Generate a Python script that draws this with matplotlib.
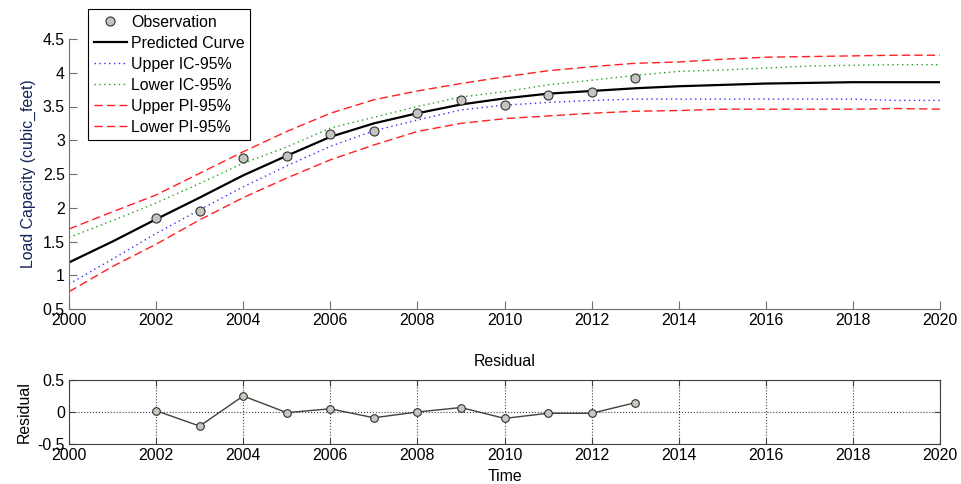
import numpy as np
import matplotlib
matplotlib.use('Agg')
import matplotlib.pyplot as plt

plt.rcParams['font.family'] = ['Liberation Sans', 'DejaVu Sans']
plt.rcParams['font.size'] = 11.4

# Model curve and confidence / prediction bands, yearly
years = np.arange(2000, 2021)
predicted = [1.19, 1.50, 1.83, 2.15, 2.48, 2.77, 3.05, 3.25, 3.40, 3.53, 3.62,
             3.69, 3.73, 3.77, 3.80, 3.82, 3.84, 3.85, 3.86, 3.86, 3.86]
upper_ic = [0.87, 1.24, 1.62, 1.97, 2.31, 2.62, 2.91, 3.14, 3.30, 3.45, 3.52,
            3.56, 3.59, 3.61, 3.61, 3.61, 3.61, 3.61, 3.61, 3.59, 3.59]
lower_ic = [1.56, 1.81, 2.07, 2.36, 2.66, 2.90, 3.18, 3.34, 3.50, 3.64, 3.72,
            3.82, 3.89, 3.96, 4.02, 4.04, 4.07, 4.10, 4.11, 4.12, 4.12]
upper_pi = [1.685, 1.94, 2.19, 2.51, 2.83, 3.13, 3.40, 3.60, 3.73, 3.84, 3.94,
            4.03, 4.09, 4.14, 4.16, 4.20, 4.23, 4.24, 4.25, 4.26, 4.26]
lower_pi = [0.756, 1.13, 1.46, 1.82, 2.15, 2.44, 2.71, 2.93, 3.13, 3.25, 3.32,
            3.36, 3.40, 3.43, 3.44, 3.46, 3.46, 3.46, 3.46, 3.47, 3.46]

# Observed data and residuals
obs_years = np.arange(2002, 2014)
observed = [1.85, 1.95, 2.73, 2.77, 3.09, 3.14, 3.40, 3.60, 3.52, 3.67, 3.71, 3.92]
residual = [0.02, -0.22, 0.25, -0.01, 0.05, -0.09, 0.00, 0.07, -0.10, -0.02, -0.02, 0.145]

x_ticks = np.arange(2000, 2021, 2)
y_ticks = [0.5, 1, 1.5, 2, 2.5, 3, 3.5, 4, 4.5]

W, H = 962, 484
fig = plt.figure(figsize=(W / 100, H / 100), dpi=100)

# Upper panel: fitted curve with bands
ax = fig.add_axes([69 / W, 1 - 309 / H, 871 / W, 270 / H])
ax.plot(obs_years, observed, 'o', ms=6.5, mfc='#c4c4c0', mec='#303030', mew=0.8,
        label='Observation', zorder=5)
ax.plot(years, predicted, '-', color='k', lw=1.6, label='Predicted Curve')
ax.plot(years, upper_ic, color='#3030ff', lw=1, dashes=(1, 2.5), label='Upper IC-95%')
ax.plot(years, lower_ic, color='#20a020', lw=1, dashes=(1, 2.5), label='Lower IC-95%')
ax.plot(years, upper_pi, color='#ff2020', lw=1, dashes=(6, 3), label='Upper PI-95%')
ax.plot(years, lower_pi, color='#ff2020', lw=1, dashes=(6, 3), label='Lower PI-95%')

ax.set_xlim(2000, 2020)
ax.set_ylim(0.5, 4.5)
ax.set_xticks(x_ticks)
ax.set_yticks(y_ticks)
ax.set_yticklabels(['%g' % v for v in y_ticks])
ax.spines['top'].set_visible(False)
ax.spines['right'].set_visible(False)
for s in ['left', 'bottom']:
    ax.spines[s].set_color('#707070')
ax.tick_params(direction='in', length=6, color='#707070', pad=3)
ax.set_ylabel('Load Capacity (cubic_feet)', color='#14245a', labelpad=5)

leg = ax.legend(loc='upper left', bbox_to_anchor=(88 / W, 1 - 9 / H),
                bbox_transform=fig.transFigure, fancybox=False, edgecolor='k',
                framealpha=1, handlelength=2.1, handletextpad=0.25,
                labelspacing=0.38, borderpad=0.35, borderaxespad=0)
leg.get_frame().set_linewidth(0.8)

# Lower panel: residuals
ax2 = fig.add_axes([69 / W, 1 - 444 / H, 871 / W, 64 / H])
ax2.plot(obs_years, residual, '-o', color='#404040', lw=1, ms=5.5,
         mfc='#c8c8c0', mec='#303030', mew=0.8)
ax2.set_xlim(2000, 2020)
ax2.set_ylim(-0.5, 0.5)
ax2.set_xticks(x_ticks)
ax2.set_yticks([-0.5, 0, 0.5])
ax2.set_yticklabels(['-0.5', '0', '0.5'])
ax2.grid(True, linestyle=':', color='#404040', lw=0.8)
for s in ax2.spines.values():
    s.set_color('#404040')
ax2.tick_params(direction='in', length=4, color='#404040', top=True, right=True, pad=3)
ax2.set_title('Residual', fontsize=11.4, pad=10)
ax2.set_xlabel('Time', labelpad=4)
ax2.set_ylabel('Residual', labelpad=4)

fig.savefig('out.png', dpi=100)
